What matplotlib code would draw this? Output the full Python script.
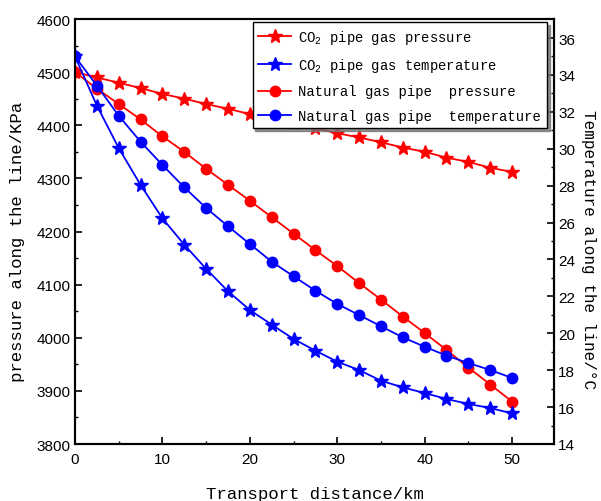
import numpy as np
import matplotlib
matplotlib.use("Agg")
from matplotlib import pyplot as plt

# transport distance along the pipe (km)
distance = [0, 2.5, 5, 7.5, 10, 12.5, 15, 17.5, 20, 22.5, 25,
            27.5, 30, 32.5, 35, 37.5, 40, 42.5, 45, 47.5, 50]

# pressures (KPa) - left axis
co2_pressure = [4500, 4490, 4480, 4470, 4459, 4450, 4440, 4431, 4421, 4412, 4404,
                4394, 4385, 4377, 4368, 4358, 4350, 4339, 4331, 4320, 4312]
ng_pressure = [4500, 4469, 4440, 4411, 4379, 4350, 4318, 4288, 4258, 4227, 4196,
               4165, 4135, 4103, 4072, 4040, 4009, 3977, 3944, 3912, 3880]

# temperatures (C) - right axis
co2_temp = [35.0, 32.34, 30.04, 28.04, 26.23, 24.80, 23.49, 22.28, 21.26, 20.47, 19.69,
            19.06, 18.46, 18.01, 17.43, 17.07, 16.76, 16.44, 16.17, 15.95, 15.66]
ng_temp = [35.0, 33.42, 31.79, 30.38, 29.12, 27.91, 26.79, 25.80, 24.84, 23.88, 23.09,
           22.31, 21.59, 20.99, 20.38, 19.78, 19.27, 18.79, 18.39, 18.01, 17.58]

labels = [r"CO$_\mathregular{2}$ pipe gas pressure",
          r"CO$_\mathregular{2}$ pipe gas temperature",
          "Natural gas pipe  pressure",
          "Natural gas pipe  temperature"]

mono = "Liberation Mono"
plt.rcParams['font.family'] = ['Liberation Sans', 'DejaVu Sans']

fig = plt.figure(figsize=(6.01, 5.02), dpi=100)
ax = fig.add_axes([75/601, 57/502, 479/601, 425/502])
ax2 = ax.twinx()

# pressure lines on the left axis
l1, = ax.plot(distance, co2_pressure, color='red', marker='*', markersize=10, lw=1.3)
l3, = ax.plot(distance, ng_pressure, color='red', marker='o', markersize=7.5, lw=1.3)

# temperature lines on the right axis
l2, = ax2.plot(distance, co2_temp, color='blue', marker='*', markersize=10, lw=1.3)
l4, = ax2.plot(distance, ng_temp, color='blue', marker='o', markersize=7.5, lw=1.3)

ax.set_xlim(0, 54.8)
ax.set_ylim(3800, 4600)
ax2.set_ylim(14, 37.03)

ax.set_xticks(np.arange(0, 51, 10))
ax.set_xticks(np.arange(5, 51, 10), minor=True)
ax.set_yticks(np.arange(3800, 4601, 100))
ax.set_yticks(np.arange(3850, 4600, 100), minor=True)
ax2.set_yticks(np.arange(14, 37, 2))
ax2.set_yticks(np.arange(15, 37, 2), minor=True)

for a in (ax, ax2):
    a.tick_params(which='major', direction='in', length=5, width=1.2, labelsize=11)
    a.tick_params(which='minor', direction='in', length=2.5, width=1.0)
    for s in a.spines.values():
        s.set_linewidth(1.5)
ax.tick_params(axis='x', pad=6)
ax2.tick_params(axis='y', pad=3)

ax.set_xlabel("Transport distance/km", fontfamily=mono, fontsize=12.5, labelpad=14)
ax.set_ylabel("pressure along the line/KPa", fontfamily=mono, fontsize=12.5)
ax.yaxis.set_label_coords(-0.104, 0.478)
ax2.set_ylabel("Temperature along the line/\u00b0C", fontfamily=mono, fontsize=11.5,
               rotation=270, va='bottom')
ax2.yaxis.set_label_coords(1.056, 0.46)

leg = ax2.legend([l1, l2, l3, l4], labels, loc='upper right',
                 bbox_to_anchor=(0.985, 0.993), prop={'family': mono, 'size': 10},
                 frameon=True, fancybox=False, shadow={'color': '0.45', 'alpha': 0.8},
                 edgecolor='black', framealpha=1, handlelength=2.4, labelspacing=0.75,
                 borderpad=0.4, handletextpad=0.5, borderaxespad=0)
leg.get_frame().set_linewidth(1.0)

fig.savefig("out.png", dpi=100)
